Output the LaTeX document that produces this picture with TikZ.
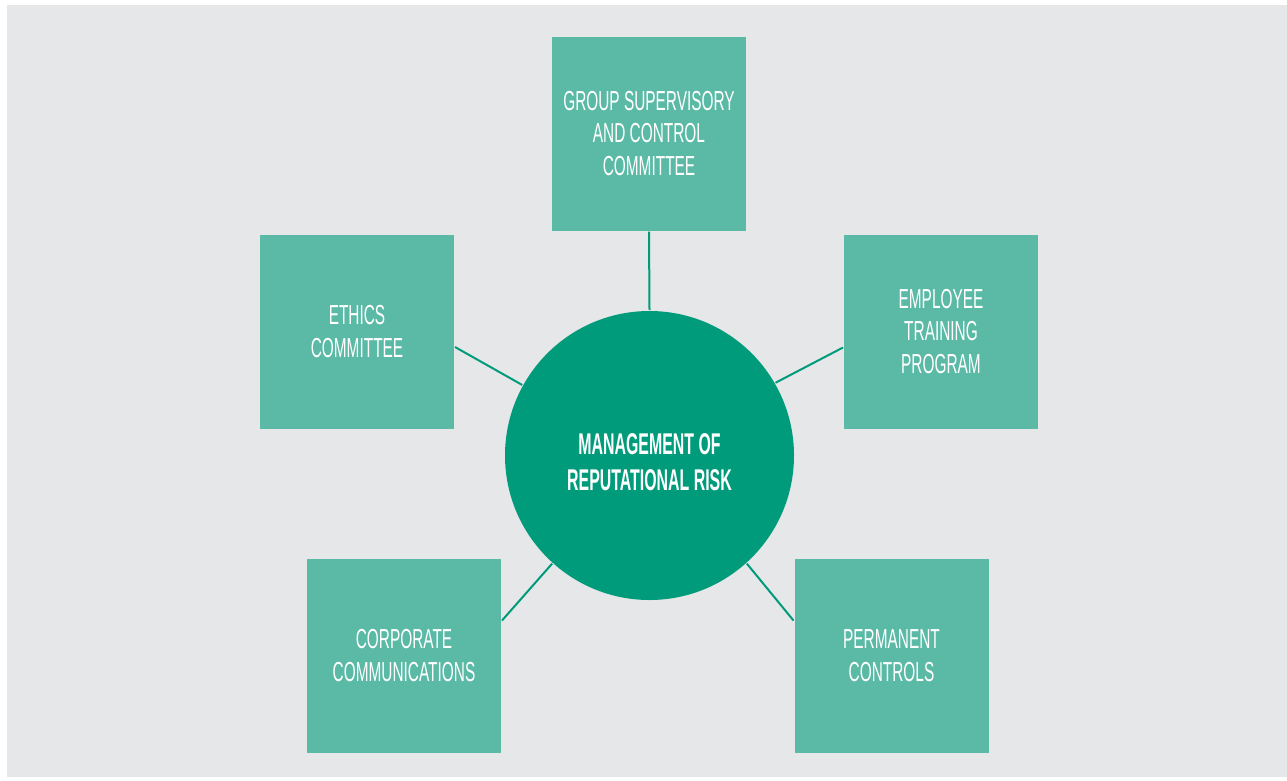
\documentclass[tikz,border=0pt]{standalone}
\usepackage{fontspec}
\usepackage{xcolor}
\usetikzlibrary{positioning,calc}
\newfontfamily\boxfont{Liberation Sans}[FakeStretch=0.56]
\newfontfamily\hubfont{Liberation Sans}[FakeStretch=0.53]
\definecolor{bggrey}{HTML}{E6E7E8}
\definecolor{boxgreen}{HTML}{5BBAA6}
\definecolor{hubgreen}{HTML}{009B7A}
\begin{document}
\begin{tikzpicture}[
    x=1pt,
    y=-1pt,
    line width=2pt
]

\tikzstyle{unit}=[
    rectangle,
    fill=boxgreen,
    minimum width=194pt,
    minimum height=194pt,
    inner sep=0pt,
    align=center,
    text=white,
    font=\boxfont\fontsize{27.5}{32.5}\selectfont
]

\tikzstyle{hub}=[
    circle,
    fill=hubgreen,
    minimum size=289pt,
    inner sep=0pt
]

\tikzstyle{hubtext}=[
    align=center,
    text=white,
    font=\hubfont\bfseries\fontsize{30}{36}\selectfont
]

\tikzstyle{link}=[
    draw=hubgreen,
    line width=2pt
]

\useasboundingbox (0,0) rectangle (1287,780);
\fill[white] (0,0) rectangle (1287,780);
\fill[bggrey] (7,5) rectangle (1287,777);

\node[hub] (hub) at (649.5,455.5) {};
\node[hubtext] (hubtitle) at (649.5,462) {MANAGEMENT OF\\REPUTATIONAL RISK};

\node[unit] (group) at (649,133.5) {GROUP SUPERVISORY\\AND CONTROL\\COMMITTEE};
\node[unit] (ethics) at (357,331.5) {ETHICS\\COMMITTEE};
\node[unit] (training) at (941,331.5) {EMPLOYEE\\TRAINING\\PROGRAM};
\node[unit] (comms) at (404,655.5) {CORPORATE\\COMMUNICATIONS};
\node[unit] (controls) at (891.5,655.5) {PERMANENT\\CONTROLS};

\draw[link] (hub.north) -- (group.south);
\draw[link] (hub.151) -- ($(ethics.east)+(0,15.5)$);
\draw[link] (hub.30) -- ($(training.west)+(0,16)$);
\draw[link] (hub.228) -- ($(comms.east)+(0,-35)$);
\draw[link] (hub.312) -- ($(controls.west)+(0,-35)$);

\end{tikzpicture}
\end{document}
